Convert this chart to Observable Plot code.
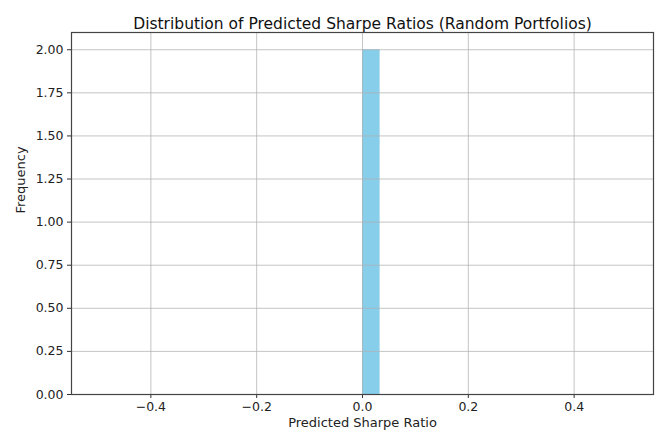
<!DOCTYPE html>
<html>
<head>
<meta charset="utf-8">
<script src="https://cdn.jsdelivr.net/npm/d3@7"></script>
<script src="https://cdn.jsdelivr.net/npm/@observablehq/plot@0.6"></script>
<style>
  html, body { margin: 0; padding: 0; background: #fff; }
  svg { display: block; }
</style>
</head>
<body>
<div id="chart"></div>
<script>
const titleText = "Distribution of Predicted Sharpe Ratios (Random Portfolios)";
const xLabel = "Predicted Sharpe Ratio";
const yLabel = "Frequency";
const binStart = [0];
const binEnd = [0.0333];
const counts = [2];
const xTicks = [-0.4, -0.2, 0, 0.2, 0.4];
const yTicks = [0, 0.25, 0.5, 0.75, 1.0, 1.25, 1.5, 1.75, 2.0];
const xDomain = [-0.55, 0.55];
const yDomain = [0, 2.1];

const bins = binStart.map((s, i) => ({x1: s, x2: binEnd[i], y: counts[i]}));
const fmtX = d => (d < 0 ? "\u2212" : "") + Math.abs(d).toFixed(1);
const font = "DejaVu Sans, sans-serif";

const plot = Plot.plot({
  width: 663,
  height: 441,
  marginLeft: 71,
  marginRight: 10,
  marginTop: 32,
  marginBottom: 47,
  style: {fontFamily: font, fontSize: "12.5px", color: "#222", background: "#fff"},
  x: {domain: xDomain, ticks: xTicks, tickFormat: fmtX, label: null},
  y: {domain: yDomain, ticks: yTicks, tickFormat: d => d.toFixed(2), label: null},
  marks: [
    Plot.rectY(bins, {x1: "x1", x2: "x2", y: "y", fill: "#87CEEB", inset: 0}),
    Plot.gridX(xTicks, {stroke: "#b0b0b0", strokeOpacity: 0.75, strokeWidth: 1}),
    Plot.gridY(yTicks, {stroke: "#b0b0b0", strokeOpacity: 0.75, strokeWidth: 1}),
    Plot.axisX(xTicks, {tickFormat: fmtX, tickSize: 4, tickPadding: 4, label: null, stroke: "#333", fontSize: 12.5, fill: "#222"}),
    Plot.axisY(yTicks, {tickFormat: d => d.toFixed(2), tickSize: 4, tickPadding: 4, label: null, stroke: "#333", fontSize: 12.5, fill: "#222"}),
    Plot.frame({stroke: "#444", strokeWidth: 1.2}),
    Plot.text([titleText], {frameAnchor: "top", dy: -15, fontSize: 15.5, fill: "#111", text: d => d}),
    Plot.text([xLabel], {frameAnchor: "bottom", dy: 32, fontSize: 13, fill: "#222", text: d => d}),
    Plot.text([yLabel], {frameAnchor: "left", dx: -51, rotate: -90, fontSize: 13, fill: "#222", text: d => d})
  ]
});
document.getElementById("chart").appendChild(plot);
</script>
</body>
</html>
